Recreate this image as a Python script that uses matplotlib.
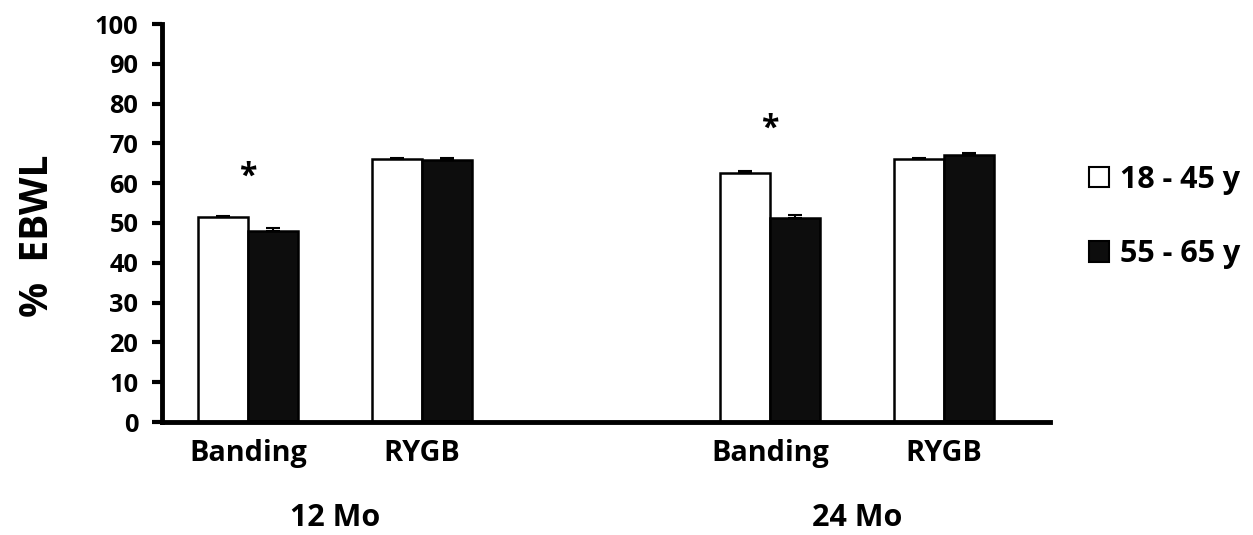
import matplotlib
matplotlib.use("Agg")
import matplotlib.pyplot as plt
from matplotlib.patches import Patch
import matplotlib.transforms as mtransforms

# ---- data ----
groups = ["12 Mo", "24 Mo"]
categories = ["Banding", "RYGB", "Banding", "RYGB"]
positions = [0, 1, 3, 4]
series_names = ["18 - 45 y", "55 - 65 y"]
young = [51.5, 66.1, 62.6, 66.1]
young_err = [0.3, 0.3, 0.5, 0.3]
old = [48.0, 65.9, 51.3, 67.1]
old_err = [0.8, 0.5, 0.8, 0.6]
star_pos = [0, 3]
star_y = [61.5, 73.5]
yticks = list(range(0, 101, 10))

FONT = "Open Sans"

fig = plt.figure(figsize=(12.53, 5.35), dpi=100)
W, H = 1253, 535
ax = fig.add_axes([162 / W, 1 - 422 / H, (1050 - 162) / W, (422 - 24) / H])

w = 0.287
xs_y = [p - w / 2 for p in positions]
xs_o = [p + w / 2 for p in positions]
ek = dict(ecolor="black", elinewidth=1.5, capsize=5, capthick=1.5)
ax.bar(xs_y, young, width=w, color="white", edgecolor="black", linewidth=1.8,
       yerr=[[0] * len(young_err), young_err], error_kw=ek, label=series_names[0], zorder=2)
ax.bar(xs_o, old, width=w, color="#0d0d0d", edgecolor="black", linewidth=1.8,
       yerr=[[0] * len(old_err), old_err], error_kw=ek, label=series_names[1], zorder=2)

ax.set_xlim(-(248 - 162) / 174, (1050 - 248) / 174)
ax.set_ylim(0, 100)
ax.set_yticks(yticks)
ax.set_yticklabels([str(t) for t in yticks], fontfamily=FONT, fontweight="bold", fontsize=18.3)
ax.tick_params(axis="y", direction="out", length=7, width=3, pad=10)
ax.set_xticks(positions)
ax.set_xticklabels(categories, fontfamily=FONT, fontweight="bold", fontsize=20.8)
ax.tick_params(axis="x", length=0, pad=12)

for s in ["top", "right"]:
    ax.spines[s].set_visible(False)
for s in ["left", "bottom"]:
    ax.spines[s].set_linewidth(3.5)

# group labels
trans = mtransforms.blended_transform_factory(ax.transData, fig.transFigure)
for g, (a, b) in zip(groups, [(0, 1), (3, 4)]):
    ax.text((a + b) / 2, 1 - 518 / H, g, transform=trans, ha="center", va="center",
            fontfamily=FONT, fontweight="bold", fontsize=22)

for xp, yp in zip(star_pos, star_y):
    ax.text(xp, yp, "*", ha="center", va="center", fontfamily=FONT,
            fontweight="bold", fontsize=23)

fig.text(38 / W, 1 - 236 / H, "%  EBWL", rotation=90, ha="center", va="center",
         fontfamily=FONT, fontweight="bold", fontsize=28)

handles = [Patch(facecolor="white", edgecolor="black", linewidth=1.5, label=series_names[0]),
           Patch(facecolor="#0d0d0d", edgecolor="black", linewidth=1.5, label=series_names[1])]
fig.legend(handles=handles, loc="center left", bbox_to_anchor=(1089 / W, 1 - 217 / H),
           frameon=False, borderpad=0, borderaxespad=0,
           handlelength=0.65, handleheight=0.65, handletextpad=0.35,
           labelspacing=1.45, prop=dict(family=FONT, weight="bold", size=22))

fig.savefig("out.png", dpi=100)
